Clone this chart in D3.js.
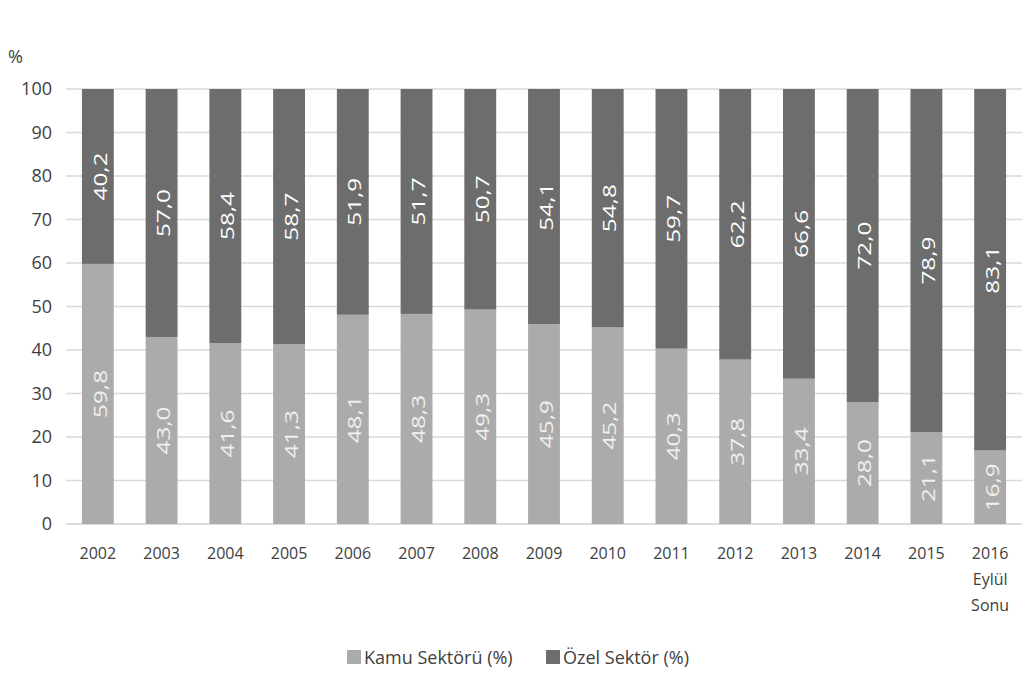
<!DOCTYPE html>
<html><head><meta charset="utf-8">
<script src="https://cdn.jsdelivr.net/npm/d3@7"></script>
<style>body{margin:0;background:#fff;}svg{display:block;}</style>
</head><body>
<svg id="c" width="1033" height="675"></svg>
<script>
const categories = ["2002","2003","2004","2005","2006","2007","2008","2009","2010","2011","2012","2013","2014","2015","2016\nEylül\nSonu"];
const kamu = [59.8,43.0,41.6,41.3,48.1,48.3,49.3,45.9,45.2,40.3,37.8,33.4,28.0,21.1,16.9];
const ozel = [40.2,57.0,58.4,58.7,51.9,51.7,50.7,54.1,54.8,59.7,62.2,66.6,72.0,78.9,83.1];
const yTicks = [0,10,20,30,40,50,60,70,80,90,100];
const seriesNames = ["Kamu Sektörü (%)","Özel Sektör (%)"];

const colors = ["#ababab","#6d6d6d"];
const font = "'Open Sans', sans-serif";
const svg = d3.select("#c");
const m = {l:66, r:1022, t:89, b:524};
const x = d3.scaleBand().domain(categories).range([m.l, m.r]).paddingInner(0.5).paddingOuter(0.25);
const y = d3.scaleLinear().domain([0,100]).range([m.b, m.t]);

// gridlines
svg.append("g").selectAll("line").data(yTicks).join("line")
  .attr("x1", m.l).attr("x2", m.r)
  .attr("y1", d=>y(d)).attr("y2", d=>y(d))
  .attr("stroke", d=>d===0?"#d0d0d0":"#d9d9d9").attr("stroke-width",1.3);

// y axis labels
const yAxis = d3.axisLeft(y).tickValues(yTicks).tickSize(0).tickPadding(0);
const ga = svg.append("g").attr("transform",`translate(52,0)`).call(yAxis);
ga.select(".domain").remove();
ga.selectAll("text").attr("font-family",font).attr("font-size",18).attr("fill","#404040");
svg.append("text").attr("x",8).attr("y",63).text("%").attr("font-family",font).attr("font-size",18).attr("fill","#404040");

// stacked bars
const rows = categories.map((c,i)=>({cat:c, kamu:kamu[i], ozel:ozel[i]}));
const stack = d3.stack().keys(["kamu","ozel"])(rows);
stack.forEach((layer,li)=>{
  const g = svg.append("g");
  g.selectAll("rect").data(layer).join("rect")
    .attr("x", d=>x(d.data.cat)).attr("width", x.bandwidth())
    .attr("y", d=>y(d[1])).attr("height", d=>y(d[0])-y(d[1]))
    .attr("fill", colors[li]);
  g.selectAll("text").data(layer).join("text")
    .attr("transform", d=>`translate(${x(d.data.cat)+x.bandwidth()/2+1.5},${(y(d[0])+y(d[1]))/2}) scale(1,1.35) rotate(-90)`)
    .attr("text-anchor","middle").attr("dominant-baseline","central")
    .attr("font-family",font).attr("font-size",18)
    .attr("fill", li===0?"#f0f0f0":"#ffffff")
    .text(d=>d3.format(".1f")(d[1]-d[0]).replace(".",","));
});

// x labels
const gx = svg.append("g");
categories.forEach(c=>{
  const lines = c.split("\n");
  const t = gx.append("text").attr("x", x(c)+x.bandwidth()/2).attr("y", 559)
    .attr("text-anchor","middle").attr("font-family",font).attr("font-size",16).attr("fill","#404040");
  lines.forEach((l,i)=>t.append("tspan").attr("x", x(c)+x.bandwidth()/2).attr("dy", i===0?0:26).text(l));
});

// legend
const legX = [347, 546];
seriesNames.forEach((n,i)=>{
  svg.append("rect").attr("x",legX[i]).attr("y",650).attr("width",14).attr("height",14).attr("fill",colors[i]);
  svg.append("text").attr("x",legX[i]+17).attr("y",664).text(n)
    .attr("font-family",font).attr("font-size",18).attr("fill","#404040");
});
</script>
</body></html>
